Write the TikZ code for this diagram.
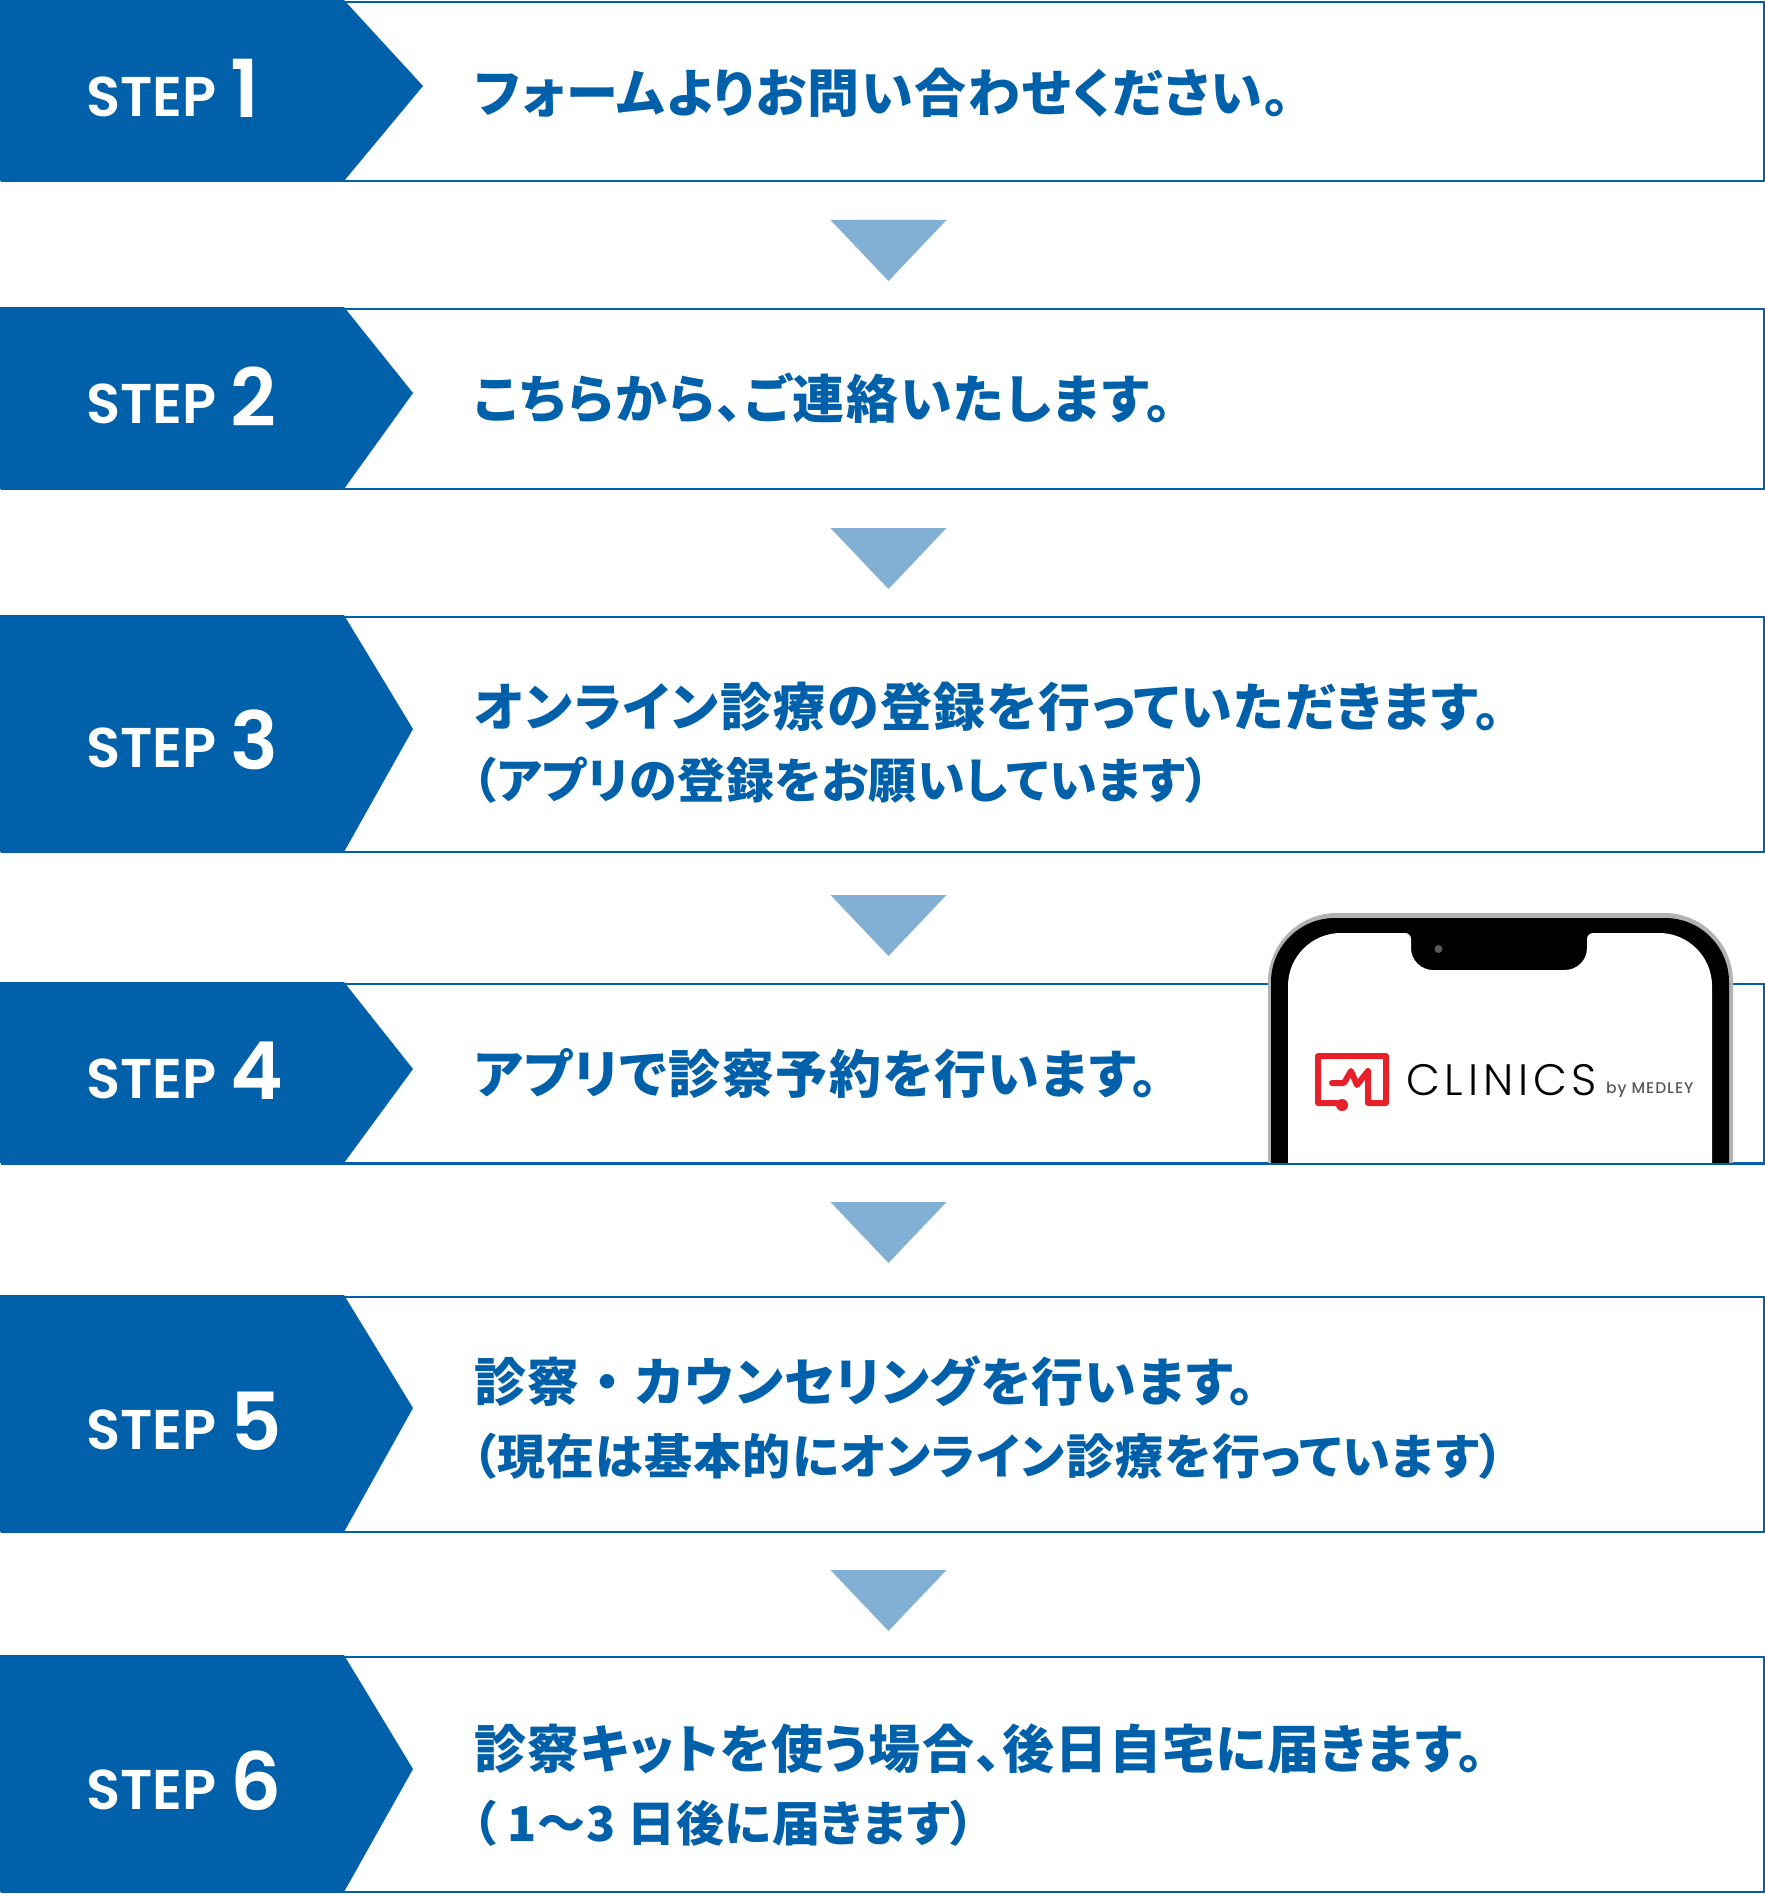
\documentclass[tikz,border=0pt]{standalone}
\usepackage{fontspec}
\newfontfamily\jpf{Noto Sans CJK JP}[RawFeature={+palt},LetterSpace=2.5]
\newfontfamily\jpm{Noto Sans CJK JP}[RawFeature={+palt},LetterSpace=3]
\newfontfamily\jpw{Noto Sans CJK JP}[RawFeature={+palt},LetterSpace=4]
\newfontfamily\jpsub{Noto Sans CJK JP}[RawFeature={+palt},LetterSpace=1.5]
\newfontfamily\jpsubw{Noto Sans CJK JP}[RawFeature={+palt},LetterSpace=2.6]
\newfontfamily\stepf{Poppins}[UprightFont={* SemiBold}]
\newfontfamily\logof{Poppins}[UprightFont={* Light},LetterSpace=11]
\newfontfamily\logosm{Poppins}[UprightFont={* Medium},LetterSpace=6]
\definecolor{mainblue}{HTML}{0060A9}
\definecolor{trianglec}{HTML}{82B0D4}
\definecolor{logored}{HTML}{E8202A}
\tikzset{
  x=1pt,y=-1pt,
  framebox/.style={draw=mainblue,line width=1.8pt,fill=white,rectangle,inner sep=0pt,anchor=north west},
  chevron/.style={fill=mainblue},
  downtri/.style={fill=trianglec},
  bodytext/.style={inner sep=0pt,anchor=base west,text=mainblue,font=\jpf\bfseries\fontsize{52}{60}\selectfont},
  bodytextm/.style={inner sep=0pt,anchor=base west,text=mainblue,font=\jpm\bfseries\fontsize{52}{60}\selectfont},
  bodytextw/.style={inner sep=0pt,anchor=base west,text=mainblue,font=\jpw\bfseries\fontsize{52}{60}\selectfont},
  subtext/.style={inner sep=0pt,anchor=base west,text=mainblue,font=\jpsub\bfseries\fontsize{48}{58}\selectfont},
  subtextw/.style={inner sep=0pt,anchor=base west,text=mainblue,font=\jpsubw\bfseries\fontsize{48}{58}\selectfont},
  steplabel/.style={inner sep=0pt,anchor=base west,text=white,font=\stepf\fontsize{56}{60}\selectfont},
  stepdigit/.style={inner sep=0pt,anchor=base west,text=white,font=\stepf\fontsize{80}{90}\selectfont},
}
% #1 name, #2 top, #3 bottom, #4 tip x, #5 tip y, #6 digit, #7 baseline, #8 digit baseline
\newcommand{\steprow}[8]{
  \node[framebox,minimum width=1762pt,minimum height=#3pt-#2pt] (#1) at (1,#2) {};
  \fill[chevron] (0,#2-1) -- (344,#2-1) -- (#4,#5) -- (344,#3+1) -- (0,#3+1) -- cycle;
  \node[steplabel] (#1s) at (86,#7) {STEP};
  \node[stepdigit] (#1d) at (230,#8) {#6};
}
\newcommand{\downarrowtri}[2]{
  \coordinate (#1) at (888.5,#2);
  \fill[downtri] ([xshift=-58pt]#1) -- ([xshift=58pt]#1) -- ([yshift=-61pt]#1) -- cycle;
}
\begin{document}
\begin{tikzpicture}
\useasboundingbox (0,0) rectangle (1764,1894);
\fill[white] (0,0) rectangle (1764,1894);
\steprow{r1}{1}{180}{423}{86}{1}{117}{118}
\steprow{r2}{308}{488}{413}{393}{2}{423}{426}
\steprow{r3}{616}{851}{413}{729}{3}{767}{769}
\steprow{r4}{983}{1162}{413}{1069}{4}{1098}{1099}
\steprow{r5}{1296}{1531}{413}{1408}{5}{1449}{1450}
\steprow{r6}{1656}{1891}{413}{1769}{6}{1809}{1810}
\downarrowtri{t1}{220}
\downarrowtri{t2}{528}
\downarrowtri{t3}{895}
\downarrowtri{t4}{1202}
\downarrowtri{t5}{1570}
\node[bodytextm] (a1) at (474.5,113) {フォームよりお問い合わせください。};
\node[bodytextw] (a2) at (474.5,418) {こちらから、ご連絡いたします。};
\node[bodytextm] (a3) at (474,726) {オンライン診療の登録を行っていただきます。};
\node[subtext] (b3) at (472,798) {（アプリの登録をお願いしています）};
\node[bodytextm] (a4) at (474,1093) {アプリで診察予約を行います。};
\node[bodytext] (a5) at (474,1401) {診察\hspace{15pt}・\hspace{15pt}カウンセリングを行います。};
\node[subtextw] (b5) at (472,1474) {（現在は基本的にオンライン診療を行っています）};
\node[bodytext] (a6) at (474,1768) {診察キットを使う場合、後日自宅に届きます。};
\node[subtext] (b6) at (472,1841) {（ 1～3 日後に届きます）};
% phone
\fill[black!30] (1268,1163) -- (1268,982) arc[start angle=180,end angle=270,radius=69] -- (1664,913) arc[start angle=270,end angle=360,radius=69] -- (1733,1163) -- cycle;
\fill[black] (1271,1163) -- (1271,982) arc[start angle=180,end angle=270,radius=64] -- (1665,918) arc[start angle=270,end angle=360,radius=64] -- (1729,1163) -- cycle;
\fill[white] (1288,1163) -- (1288,986) arc[start angle=180,end angle=270,radius=53] -- (1405,933)
  arc[start angle=270,end angle=360,radius=6] -- (1411,948) arc[start angle=180,end angle=90,radius=22] -- (1565,970)
  arc[start angle=90,end angle=0,radius=22] -- (1587,939) arc[start angle=180,end angle=270,radius=6] -- (1659,933)
  arc[start angle=270,end angle=360,radius=53] -- (1712,1163) -- cycle;
\fill[black!65] (1438.5,949) circle[radius=4];
% logo
\draw[logored,line width=6pt,line join=round,line cap=round]
  (1342,1103) -- (1318,1103) -- (1318,1056) -- (1386,1056) -- (1386,1103) -- (1368,1103) -- (1368,1071) -- (1357,1085) -- (1351,1071) -- (1344,1083) -- (1332,1083);
\fill[logored] (1342,1105) circle[radius=6];
\node[inner sep=0pt,anchor=base west,text=black] (clinics) at (1406,1095) {\logof\fontsize{44}{50}\selectfont CLINICS};
\node[inner sep=0pt,anchor=base west,text=black!65] (medley) at (1606,1093) {\logosm\fontsize{15.5}{20}\selectfont by MEDLEY};
\draw[mainblue,line width=1.8pt] (r4.south west) -- (r4.south east);
\end{tikzpicture}
\end{document}
